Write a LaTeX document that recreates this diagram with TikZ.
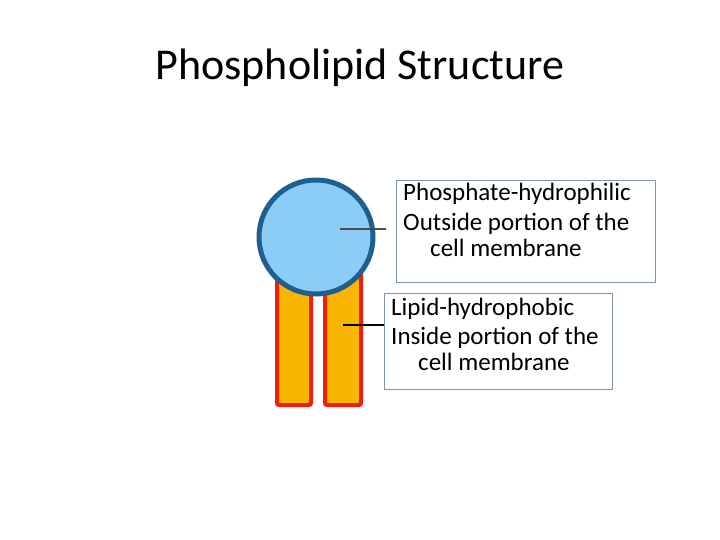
\documentclass[tikz,border=0pt]{standalone}
\usepackage{fontspec}
\setmainfont{Carlito}
\definecolor{headfill}{HTML}{8BCDF7}
\definecolor{headline}{HTML}{1E5F8E}
\definecolor{tailfill}{HTML}{F8B600}
\definecolor{tailline}{HTML}{F01E0E}
\definecolor{boxline}{HTML}{7F95B0}
\begin{document}
\begin{tikzpicture}[x=1pt,y=-1pt,
  tail/.style={draw=tailline,fill=tailfill,line width=4pt,rounded corners=2pt},
  lbl/.style={font=\fontsize{25}{30}\selectfont,anchor=west,inner sep=0pt},
  frame/.style={draw=boxline,line width=0.8pt}]
\useasboundingbox (0,0) rectangle (720,540);
\node (title) at (360,68) {\fontsize{44}{50}\selectfont Phospholipid Structure};
\draw[tail] (277,270) rectangle (311,405);
\draw[tail] (325,270) rectangle (361,405);
\node[circle,draw=headline,fill=headfill,line width=5pt,minimum size=114pt,inner sep=0pt] (head) at (316,237) {};
\node[frame,minimum width=259pt,minimum height=102pt,anchor=north west,inner sep=0pt] (box1) at (396,180) {};
\node[frame,minimum width=228pt,minimum height=96pt,anchor=north west,inner sep=0pt] (box2) at (384,293) {};
\node[lbl] (t1) at (403,194) {Phosphate-hydrophilic};
\node[lbl] (t2) at (403,224) {Outside portion of the};
\node[lbl] (t3) at (430,248) {cell membrane};
\node[lbl] (u1) at (391,309) {Lipid-hydrophobic};
\node[lbl] (u2) at (391,338) {Inside portion of the};
\node[lbl] (u3) at (418,362) {cell membrane};
\coordinate (c1) at (340,229);
\coordinate (c2) at (343,325);
\draw[line width=2pt,color=black!70] (c1) -- (386,229);
\draw[line width=2pt,color=black] (c2) -- (box2.west |- c2);
\end{tikzpicture}
\end{document}
